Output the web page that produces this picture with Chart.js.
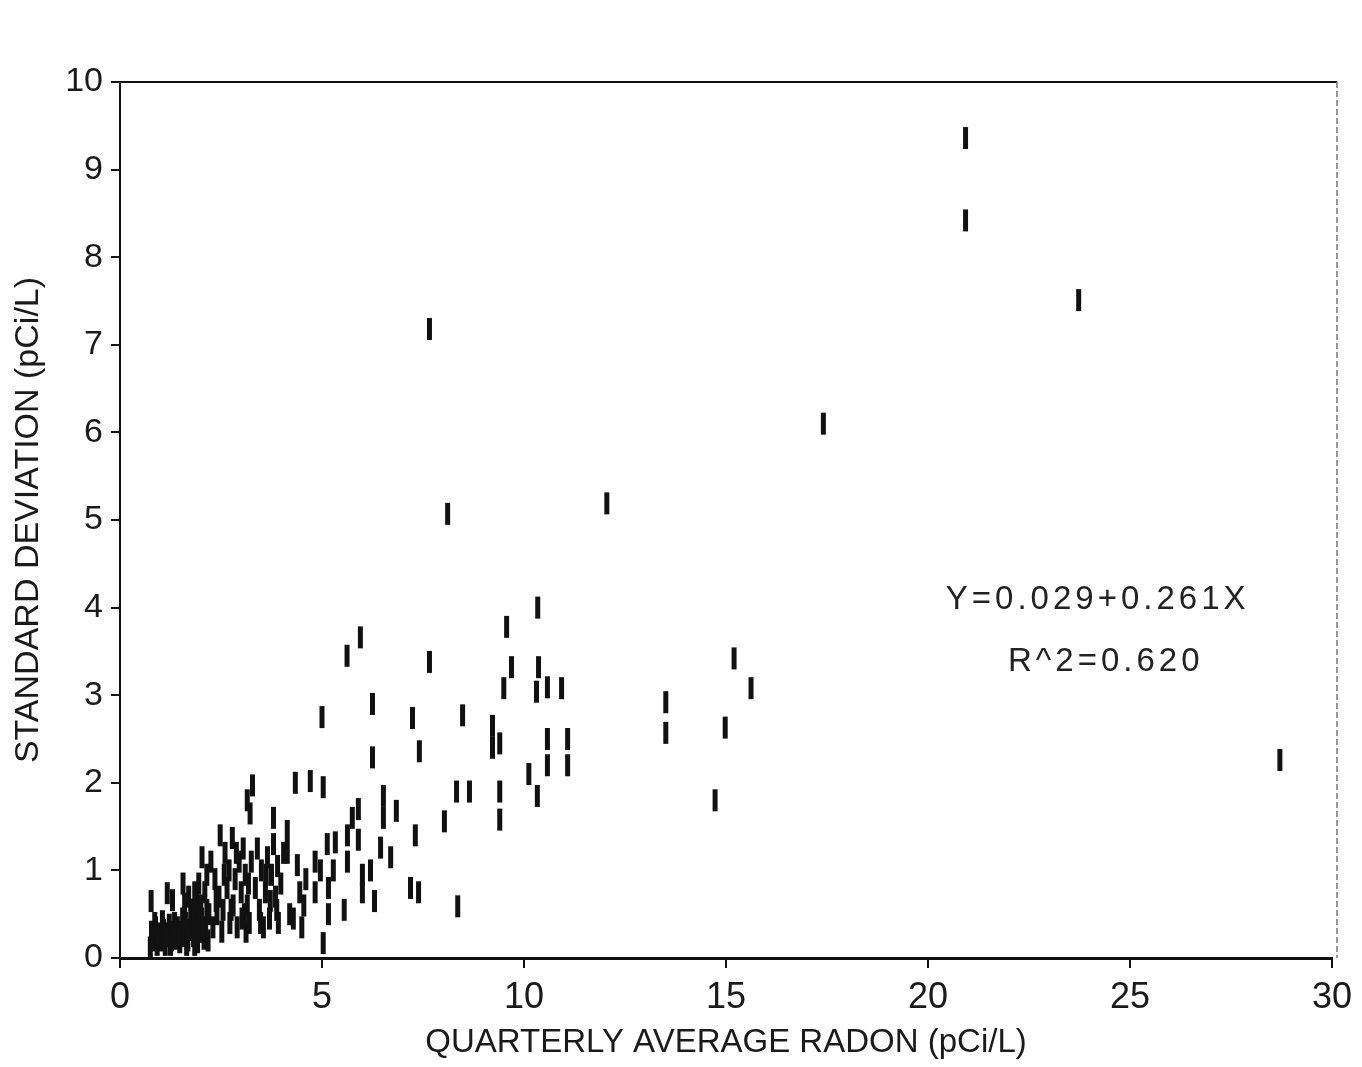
<!DOCTYPE html>
<html>
<head>
<meta charset="utf-8">
<script src="https://cdn.jsdelivr.net/npm/chart.js@4"></script>
<style>
  html, body { margin: 0; padding: 0; background: #fff; }
  #wrap { width: 1362px; height: 1067px; }
</style>
</head>
<body>
<div id="wrap"><canvas id="radonChart"></canvas></div>
<script>
// quarterly average radon (pCi/L) vs standard deviation (pCi/L)
const radonAvg = [
  0.75, 0.78, 0.82, 0.88, 0.92, 0.98, 1.02, 1.08, 1.12, 1.18, 1.22, 1.28, 1.32, 1.38, 1.42,
  1.48, 1.52, 1.58, 1.62, 1.68, 1.72, 1.78, 1.82, 1.88, 1.92, 1.98, 2.02, 2.08, 2.12, 2.18,
  0.80, 0.86, 0.95, 1.05, 1.15, 1.25, 1.35, 1.45, 1.55, 1.65, 1.75, 1.85, 1.95, 2.05, 2.15,
  0.77, 1.17, 1.30, 1.56, 1.70, 1.80, 1.90, 1.95, 2.00, 2.03, 2.10, 2.20, 1.60, 1.85, 2.15,
  2.25, 2.30, 2.35, 2.40, 2.45, 2.48, 2.52, 2.55, 2.60, 2.65, 2.70, 2.72, 2.78, 2.80,
  2.85, 2.90, 2.95, 3.00, 3.02, 3.05, 3.10, 3.12, 3.15, 3.15, 3.22, 3.28, 3.20, 3.25,
  2.38, 2.58, 2.75, 2.88, 3.08, 3.18,
  3.35, 3.40, 3.45, 3.50, 3.55, 3.60, 3.65, 3.70, 3.75, 3.80, 3.80, 3.85, 3.90, 3.92, 3.98, 4.05,
  3.48, 3.62, 3.72, 3.88,
  4.14, 4.14, 4.20, 4.29, 4.34, 4.39, 4.45, 4.50, 4.55, 4.60, 4.71, 4.83, 4.83, 4.96,
  5.03, 5.00, 5.03, 5.13, 5.16, 5.16, 5.28, 5.33, 5.55,
  5.62, 5.63, 5.63, 5.75, 5.90, 5.90, 5.95, 6.00, 6.00, 6.20, 6.25, 6.25, 6.30, 6.45,
  6.52, 6.52, 6.70, 6.84, 7.19, 7.24, 7.31, 7.39, 7.41, 7.66, 7.66,
  8.03, 8.11, 8.33, 8.36, 8.48, 8.65, 9.22, 9.22, 9.40, 9.40, 9.40, 9.50, 9.57, 9.69,
  10.12, 10.33, 10.31, 10.34, 10.36, 10.58, 10.58, 10.58, 10.93, 11.08, 11.08, 12.05,
  13.51, 13.51, 14.73, 14.98, 15.20, 15.62, 17.41, 20.93, 20.93, 23.73, 28.71
];
const stdDev = [
  0.12, 0.30, 0.20, 0.35, 0.15, 0.28, 0.20, 0.32, 0.15, 0.25, 0.38, 0.20, 0.30, 0.22, 0.35,
  0.18, 0.30, 0.25, 0.40, 0.20, 0.32, 0.45, 0.25, 0.38, 0.18, 0.30, 0.45, 0.22, 0.35, 0.20,
  0.22, 0.40, 0.25, 0.42, 0.28, 0.15, 0.40, 0.28, 0.45, 0.15, 0.55, 0.15, 0.48, 0.30, 0.55,
  0.65, 0.74, 0.66, 0.85, 0.70, 0.55, 0.62, 0.85, 0.60, 1.15, 0.75, 0.50, 0.62, 0.75, 0.95,
  1.10, 0.35, 0.90, 0.50, 0.70, 1.40, 0.30, 0.55, 1.20, 0.80, 1.00, 0.40, 1.37, 0.60,
  0.90, 0.35, 1.10, 0.75, 0.45, 1.25, 0.95, 0.30, 0.60, 1.80, 1.65, 1.97, 0.40, 1.10,
  0.65, 0.95, 0.55, 1.20, 0.50, 0.85,
  0.80, 1.25, 0.55, 1.00, 0.35, 0.75, 1.15, 0.45, 0.95, 1.60, 1.30, 0.70, 1.05, 0.40, 0.85, 1.20,
  0.40, 0.95, 0.65, 0.55,
  1.45, 1.20, 0.50, 0.45, 2.00, 1.06, 0.75, 0.35, 0.60, 0.90, 2.02, 1.10, 0.75, 1.00,
  1.95, 2.75, 0.17, 1.30, 0.80, 0.50, 1.00, 1.32, 0.55,
  3.45, 1.40, 1.10, 1.60, 1.70, 1.35, 3.66, 0.95, 0.75, 1.00, 2.90, 2.29, 0.65, 1.26,
  1.85, 1.60, 1.15, 1.68, 0.80, 2.74, 1.40, 0.75, 2.36, 3.38, 7.18,
  1.56, 5.07, 1.90, 0.59, 2.77, 1.90, 2.65, 2.40, 2.45, 1.90, 1.58, 3.08, 3.78, 3.32,
  2.10, 1.85, 3.04, 4.00, 3.32, 3.09, 2.50, 2.20, 3.08, 2.50, 2.20, 5.19,
  2.92, 2.57, 1.80, 2.63, 3.42, 3.08, 6.10, 9.36, 8.42, 7.51, 2.26
];
const xTicks = [0, 5, 10, 15, 20, 25, 30];
const yTicks = [0, 1, 2, 3, 4, 5, 6, 7, 8, 9, 10];
const fitLines = ['Y=0.029+0.261X', 'R^2=0.620'];
const fitPos = [[24.2, 4.09], [24.4, 3.38]];

const points = radonAvg.map((x, i) => ({ x: x, y: stdDev[i] }));

const frame = {
  id: 'frame',
  afterDraw(chart) {
    const { ctx, chartArea: a, scales } = chart;
    ctx.save();
    // top border
    ctx.strokeStyle = '#111';
    ctx.lineWidth = 2;
    ctx.beginPath();
    ctx.moveTo(a.left, a.top);
    ctx.lineTo(a.right + 5, a.top);
    ctx.stroke();
    // faint dashed right border
    ctx.strokeStyle = '#777';
    ctx.lineWidth = 1.5;
    ctx.setLineDash([6, 3]);
    ctx.beginPath();
    ctx.moveTo(a.right + 5, a.top);
    ctx.lineTo(a.right + 5, a.bottom);
    ctx.stroke();
    ctx.setLineDash([]);
    // regression text
    ctx.fillStyle = '#222';
    ctx.font = '33px "Liberation Sans", Arial, sans-serif';
    ctx.letterSpacing = '4px';
    ctx.textAlign = 'center';
    ctx.textBaseline = 'middle';
    fitLines.forEach((t, i) => {
      ctx.fillText(t, scales.x.getPixelForValue(fitPos[i][0]), scales.y.getPixelForValue(fitPos[i][1]));
    });
    ctx.restore();
  }
};

const ctx = document.getElementById('radonChart');
new Chart(ctx, {
  type: 'scatter',
  data: {
    datasets: [{
      data: points,
      pointStyle: 'line',
      rotation: 90,
      radius: 11,
      hoverRadius: 11,
      borderWidth: 5,
      borderColor: '#111',
      backgroundColor: '#111'
    }]
  },
  options: {
    responsive: true,
    maintainAspectRatio: false,
    animation: false,
    events: [],
    layout: { padding: { top: 82, right: 30, left: 0, bottom: 0 } },
    plugins: { legend: { display: false }, tooltip: { enabled: false } },
    scales: {
      x: {
        type: 'linear',
        min: 0,
        max: 30,
        afterBuildTicks: s => { s.ticks = xTicks.map(v => ({ value: v })); },
        afterFit: s => { s.height = 109; },
        ticks: {
          color: '#1a1a1a',
          padding: 8,
          maxRotation: 0,
          font: { family: '"Liberation Sans", Arial, sans-serif', size: 36 }
        },
        grid: { drawOnChartArea: false, tickLength: 10, color: '#111', lineWidth: 2 },
        border: { color: '#111', width: 3 },
        title: {
          display: true,
          text: 'QUARTERLY AVERAGE RADON (pCi/L)',
          color: '#1a1a1a',
          padding: { top: 0, bottom: 4 },
          font: { family: '"Liberation Sans", sans-serif', size: 33 }
        }
      },
      y: {
        type: 'linear',
        min: 0,
        max: 10,
        afterBuildTicks: s => { s.ticks = yTicks.map(v => ({ value: v })); },
        afterFit: s => { s.width = 120; },
        ticks: {
          color: '#1a1a1a',
          padding: 8,
          font: { family: '"Liberation Sans", Arial, sans-serif', size: 34 }
        },
        grid: { drawOnChartArea: false, tickLength: 9, color: '#111', lineWidth: 2 },
        border: { color: '#111', width: 2 },
        title: {
          display: true,
          text: 'STANDARD DEVIATION (pCi/L)',
          color: '#1a1a1a',
          padding: { top: 8, bottom: 0 },
          font: { family: '"Liberation Sans", sans-serif', size: 34 }
        }
      }
    }
  },
  plugins: [frame]
});
</script>
</body>
</html>
